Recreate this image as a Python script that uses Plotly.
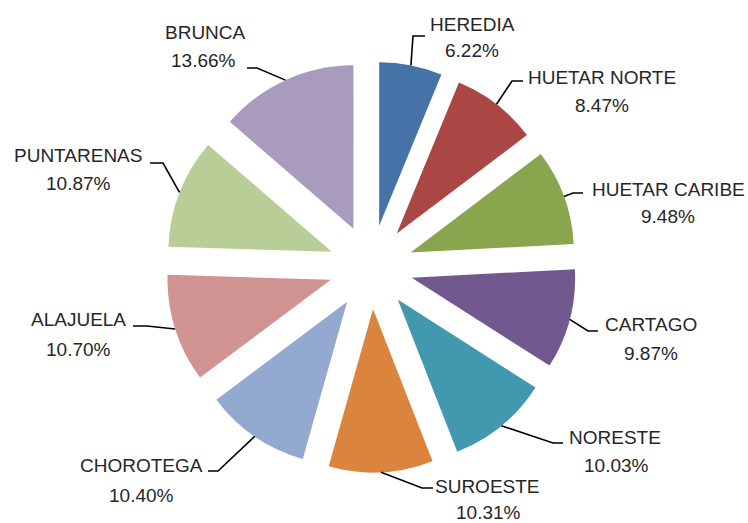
import math
import plotly.graph_objects as go

# ---- data ----
regions = ["HEREDIA", "HUETAR NORTE", "HUETAR CARIBE", "CARTAGO", "NORESTE",
           "SUROESTE", "CHOROTEGA", "ALAJUELA", "PUNTARENAS", "BRUNCA"]
shares = [6.22, 8.47, 9.48, 9.87, 10.03, 10.31, 10.40, 10.70, 10.87, 13.66]

# ---- style ----
colors = ["#4572A7", "#AA4643", "#89A54E", "#71588F", "#4198AF",
          "#DB843D", "#93A9CF", "#D19392", "#B9CD96", "#A99BBD"]
W, H = 748, 523
PULL = 0.258
CX, CY = 371, 267          # pie centre (px)
BOX = 411                  # pie box size (px)
R = BOX / 2 / (1 + PULL)   # slice radius as plotly computes it
FONT = dict(family="Liberation Sans, Arial, sans-serif", size=19, color="#262626")

# label layout (px): name centre, percent centre, elbow, stub end
label_layout = [
    ((472, 24), (472, 50), (413, 36), (425, 36)),
    ((602, 77), (602, 105), (512, 81), (523, 81)),
    ((668, 189), (668, 216), (573, 193), (583, 193)),
    ((651, 324), (651, 353), (588, 331), (598, 331)),
    ((615, 437), (616, 465), (553, 443), (563, 443)),
    ((487, 487), (488, 512), (422, 488), (433, 488)),
    ((141, 465), (141, 495), (218, 471), (208, 471)),
    ((78, 319), (78, 349), (147, 326), (133, 326)),
    ((78, 155), (78, 183), (163, 163), (150, 163)),
    ((205, 32), (204, 61), (257, 68), (247, 68)),
]


def px(x, y):
    return x / W, 1 - y / H


dom_x = [(CX - BOX / 2) / W, (CX + BOX / 2) / W]
dom_y = [1 - (CY + BOX / 2) / H, 1 - (CY - BOX / 2) / H]

fig = go.Figure(go.Pie(
    labels=regions, values=shares, sort=False, direction="clockwise", rotation=0,
    pull=[PULL] * len(shares), marker=dict(colors=colors, line=dict(width=0)),
    textinfo="none", domain=dict(x=dom_x, y=dom_y), showlegend=False,
))

total = sum(shares)
annotations, shapes = [], []
cum = 0.0
for name, val, (nc, pc, elbow, stub) in zip(regions, shares, label_layout):
    mid = (cum + val / 2) / total * 2 * math.pi
    cum += val
    ax = CX + R * (1 + PULL) * math.sin(mid)
    ay = CY - R * (1 + PULL) * math.cos(mid)
    p0 = px(ax, ay)
    p1 = px(*elbow)
    p2 = px(*stub)
    shapes.append(dict(type="path", xref="paper", yref="paper",
                       path=f"M {p0[0]},{p0[1]} L {p1[0]},{p1[1]} L {p2[0]},{p2[1]}",
                       line=dict(color="#000000", width=1.6)))
    for txt, (tx, ty) in ((name, nc), (f"{val:.2f}%", pc)):
        x, y = px(tx, ty)
        annotations.append(dict(x=x, y=y, xref="paper", yref="paper", text=txt,
                                showarrow=False, xanchor="center", yanchor="middle",
                                font=FONT))

fig.update_layout(width=W, height=H, margin=dict(l=0, r=0, t=0, b=0),
                  paper_bgcolor="white", plot_bgcolor="white",
                  annotations=annotations, shapes=shapes)
fig.write_html("out.html", config={"displayModeBar": False},
               post_script="document.body.style.margin='0';document.body.style.overflow='hidden';")
